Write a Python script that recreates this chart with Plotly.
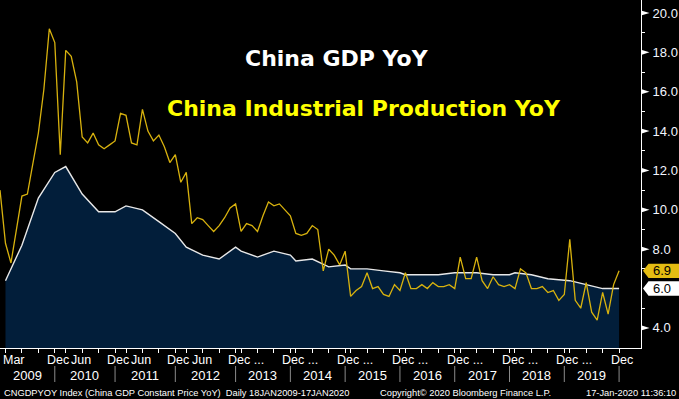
import plotly.graph_objects as go

# ---------------- data ----------------
obs_dates = [
    "2009-02", "2009-03", "2009-04", "2009-05", "2009-06", "2009-07", "2009-08", "2009-09", "2009-10", "2009-11", "2009-12",
    "2010-02", "2010-03", "2010-04", "2010-05", "2010-06", "2010-07", "2010-08", "2010-09", "2010-10", "2010-11", "2010-12",
    "2011-02", "2011-03", "2011-04", "2011-05", "2011-06", "2011-07", "2011-08", "2011-09", "2011-10", "2011-11", "2011-12",
    "2012-02", "2012-03", "2012-04", "2012-05", "2012-06", "2012-07", "2012-08", "2012-09", "2012-10", "2012-11", "2012-12",
    "2013-03", "2013-04", "2013-05", "2013-06", "2013-07", "2013-08", "2013-09", "2013-10", "2013-11", "2013-12",
    "2014-03", "2014-04", "2014-05", "2014-06", "2014-07", "2014-08", "2014-09", "2014-10", "2014-11", "2014-12",
    "2015-03", "2015-04", "2015-05", "2015-06", "2015-07", "2015-08", "2015-09", "2015-10", "2015-11", "2015-12",
    "2016-03", "2016-04", "2016-05", "2016-06", "2016-07", "2016-08", "2016-09", "2016-10", "2016-11", "2016-12",
    "2017-03", "2017-04", "2017-05", "2017-06", "2017-07", "2017-08", "2017-09", "2017-10", "2017-11", "2017-12",
    "2018-03", "2018-04", "2018-05", "2018-06", "2018-07", "2018-08", "2018-09", "2018-10", "2018-11", "2018-12",
    "2019-03", "2019-04", "2019-05", "2019-06", "2019-07", "2019-08", "2019-09", "2019-10", "2019-11", "2019-12",
]

ip_yoy = [
    11.0, 8.3, 7.3, 8.9, 10.7, 10.8, 12.3, 13.9, 16.1, 19.2, 18.5,
    12.8, 18.1, 17.8, 16.5, 13.7, 13.4, 13.9, 13.3, 13.1, 13.3, 13.5,
    14.9, 14.8, 13.4, 13.3, 15.1, 14.0, 13.5, 13.8, 13.2, 12.4, 12.8,
    11.4, 11.9, 9.3, 9.6, 9.5, 9.2, 8.9, 9.2, 9.6, 10.1, 10.3,
    8.9, 9.3, 9.2, 8.9, 9.7, 10.4, 10.2, 10.3, 10.0, 9.7,
    8.8, 8.7, 8.8, 9.2, 9.0, 6.9, 8.0, 7.7, 7.2, 7.9,
    5.6, 5.9, 6.1, 6.8, 6.0, 6.1, 5.7, 5.6, 6.2, 5.9,
    6.8, 6.0, 6.0, 6.2, 6.0, 6.3, 6.1, 6.1, 6.2, 6.0,
    7.6, 6.5, 6.5, 7.6, 6.4, 6.0, 6.6, 6.2, 6.1, 6.2,
    6.0, 7.0, 6.8, 6.0, 6.0, 6.1, 5.8, 5.9, 5.4, 5.7,
    8.5, 5.4, 5.0, 6.3, 4.8, 4.4, 5.8, 4.7, 6.2, 6.9,
]

gdp_dates = [
    "2009-03", "2009-06", "2009-09", "2009-12",
    "2010-03", "2010-06", "2010-09", "2010-12",
    "2011-03", "2011-06", "2011-09", "2011-12",
    "2012-03", "2012-06", "2012-09", "2012-12",
    "2013-03", "2013-06", "2013-09", "2013-12",
    "2014-03", "2014-06", "2014-09", "2014-12",
    "2015-03", "2015-06", "2015-09", "2015-12",
    "2016-03", "2016-06", "2016-09", "2016-12",
    "2017-03", "2017-06", "2017-09", "2017-12",
    "2018-03", "2018-06", "2018-09", "2018-12",
    "2019-03", "2019-06", "2019-09", "2019-12",
]
gdp_yoy = [
    6.4, 8.2, 10.6, 11.9,
    12.2, 10.8, 9.9, 9.9,
    10.2, 10.0, 9.4, 8.8,
    8.1, 7.7, 7.5, 8.1,
    7.9, 7.6, 7.9, 7.7,
    7.4, 7.5, 7.1, 7.2,
    7.0, 7.0, 6.9, 6.8,
    6.7, 6.7, 6.7, 6.8,
    6.8, 6.8, 6.7, 6.7,
    6.8, 6.7, 6.5, 6.4,
    6.4, 6.2, 6.0, 6.0,
]

y_tick_vals = [4, 8, 10, 12, 14, 16, 18, 20]
y_minor_vals = [5, 7, 9, 11, 13, 15, 17, 19]

month_label_dates = ["2009-03", "2009-12", "2010-06", "2010-12", "2011-06", "2011-12", "2012-06",
                     "2012-12", "2013-12", "2014-12", "2015-12", "2016-12", "2017-12", "2018-12", "2019-12"]
month_label_text = ["Mar", "Dec", "Jun", "Dec", "Jun", "Dec", "Jun",
                    "Dec ...", "Dec ...", "Dec ...", "Dec ...", "Dec ...", "Dec ...", "Dec ...", "Dec"]
year_labels = ["2009", "2010", "2011", "2012", "2013", "2014", "2015", "2016", "2017", "2018", "2019"]
year_end_dates = ["2009-12", "2010-12", "2011-12", "2012-12", "2013-12", "2014-12",
                  "2015-12", "2016-12", "2017-12", "2018-12", "2019-12"]

title_gdp = "China GDP YoY"
title_ip = "China Industrial Production YoY"
footer_left = "CNGDPYOY Index (China GDP Constant Price YoY)  Daily 18JAN2009-17JAN2020"
footer_mid = "Copyright\u00a9 2020 Bloomberg Finance L.P."
footer_right = "17-Jan-2020 11:36:10"

# ---------------- styling ----------------
W, H = 679, 399
ML, MR, MT, MB = 0, 38, 0, 51
PW, PH = W - ML - MR, H - MT - MB
Y0, Y1 = 2.98, 20.66
X0, X1 = 0, 117.0
IP_COLOR = "#d8b20e"
GDP_LINE = "#e8e8e8"
GDP_FILL = "#021e3a"
BADGE_YELLOW = "#e4bc12"
FONT = "Liberation Sans, Arial, sans-serif"
TITLE_FONT = "DejaVu Sans, Verdana, sans-serif"

fig = go.Figure()
fig.add_trace(go.Scatter(
    x=gdp_dates, y=gdp_yoy, mode="lines", fill="tozeroy",
    line=dict(color=GDP_LINE, width=1.4), fillcolor=GDP_FILL,
    hoverinfo="skip", showlegend=False))
fig.add_trace(go.Scatter(
    x=obs_dates, y=ip_yoy, mode="lines",
    line=dict(color=IP_COLOR, width=1.3),
    hoverinfo="skip", showlegend=False))

shapes = []
annotations = []

# triangle markers at major y ticks (right axis)
h_tri = 2.6 * (Y1 - Y0) / PH
w_tri = 8.5 / PW
for v in y_tick_vals:
    shapes.append(dict(type="path", xref="paper", yref="y",
                       path=f"M 1,{v - h_tri} L 1,{v + h_tri} L {1 + w_tri},{v} Z",
                       fillcolor="white", line=dict(width=0), layer="above"))

# last-value badges
def badge(v, color):
    hh = 7.2 * (Y1 - Y0) / PH
    xa = 1 + 2.0 / PW
    xb = 1 + 7.5 / PW
    xc = 1 + 38.0 / PW
    shapes.append(dict(type="path", xref="paper", yref="y",
                       path=f"M {xa},{v} L {xb},{v + hh} L {xc},{v + hh} L {xc},{v - hh} L {xb},{v - hh} Z",
                       fillcolor=color, line=dict(width=0), layer="above"))
    annotations.append(dict(xref="paper", yref="y", x=1 + 10.0 / PW, y=v, xanchor="left", yanchor="middle",
                            text=f"{v:.1f}", showarrow=False,
                            font=dict(family=FONT, size=13, color="black")))

badge(ip_yoy[-1], BADGE_YELLOW)
badge(gdp_yoy[-1], "#ffffff")

def py(pix):
    return 1 - pix / PH

LABEL_FONT = dict(family=FONT, size=12.5, color="white")

# month labels
for d, t in zip(month_label_dates, month_label_text):
    if t == "Mar":
        annotations.append(dict(xref="x", yref="paper", x=obs_dates[0], y=py(360), xanchor="left",
                                yanchor="middle", xshift=1, text=t, showarrow=False, font=LABEL_FONT))
    elif t.startswith("Dec"):
        annotations.append(dict(xref="x", yref="paper", x=d, y=py(360), xanchor="left",
                                yanchor="middle", xshift=-10, text=t, showarrow=False, font=LABEL_FONT))
    else:
        annotations.append(dict(xref="x", yref="paper", x=d, y=py(360), xanchor="center",
                                yanchor="middle", xshift=-1, text=t, showarrow=False, font=LABEL_FONT))

# year labels and separators
prev = 0
for yl, d in zip(year_labels, year_end_dates):
    idx = obs_dates.index(d)
    annotations.append(dict(xref="x", yref="paper", x=(prev + idx) / 2, y=py(375), xanchor="center",
                            yanchor="middle", text=yl, showarrow=False,
                            font=dict(family=FONT, size=13, color="white")))
    shapes.append(dict(type="line", xref="x", yref="paper", x0=d, x1=d, y0=py(366), y1=py(382),
                       line=dict(color="#8a8a8a", width=1)))
    prev = idx

# titles
annotations.append(dict(xref="paper", yref="paper", x=337 / PW, y=py(59), xanchor="center", yanchor="middle",
                        text=f"<b>{title_gdp}</b>", showarrow=False,
                        font=dict(family=TITLE_FONT, size=22, color="white")))
annotations.append(dict(xref="paper", yref="paper", x=364 / PW, y=py(109), xanchor="center", yanchor="middle",
                        text=f"<b>{title_ip}</b>", showarrow=False,
                        font=dict(family=TITLE_FONT, size=22, color="#ffff00")))

# footer
FOOT_FONT = dict(family=FONT, size=9.3, color="white")
annotations.append(dict(xref="paper", yref="paper", x=2 / PW, y=py(393), xanchor="left", yanchor="middle",
                        text=footer_left, showarrow=False, font=FOOT_FONT))
annotations.append(dict(xref="paper", yref="paper", x=378 / PW, y=py(393), xanchor="left", yanchor="middle",
                        text=footer_mid, showarrow=False, font=FOOT_FONT))
annotations.append(dict(xref="paper", yref="paper", x=678 / PW, y=py(393), xanchor="right", yanchor="middle",
                        text=footer_right, showarrow=False, font=FOOT_FONT))

fig.update_layout(
    template="none",
    width=W, height=H,
    margin=dict(l=ML, r=MR, t=MT, b=MB, pad=0),
    paper_bgcolor="black", plot_bgcolor="black",
    showlegend=False,
    shapes=shapes, annotations=annotations,
    xaxis=dict(type="category", categoryorder="array", categoryarray=obs_dates,
               range=[X0, X1], showgrid=False, zeroline=False,
               showline=True, linecolor="white", linewidth=1,
               ticks="outside", tickmode="array", tickvals=gdp_dates, ticklen=4, tickwidth=1,
               tickcolor="white", showticklabels=False, automargin=False, fixedrange=True),
    yaxis=dict(side="right", range=[Y0, Y1], showgrid=False, zeroline=False,
               showline=True, linecolor="white", linewidth=1,
               tickmode="array", tickvals=y_tick_vals, ticktext=[f"{v:.1f}" for v in y_tick_vals],
               ticks="outside", ticklen=8, tickcolor="rgba(0,0,0,0)",
               tickfont=dict(family=FONT, size=13, color="#f2f5ff"),
               minor=dict(tickmode="array", tickvals=y_minor_vals, ticks="outside", ticklen=3,
                          tickcolor="white", showgrid=False),
               automargin=False, fixedrange=True),
)

fig.write_html("out.html", config={"displayModeBar": False},
               post_script="document.body.style.margin='0';document.body.style.padding='0';"
                           "document.body.style.overflow='hidden';document.body.style.background='black';")
